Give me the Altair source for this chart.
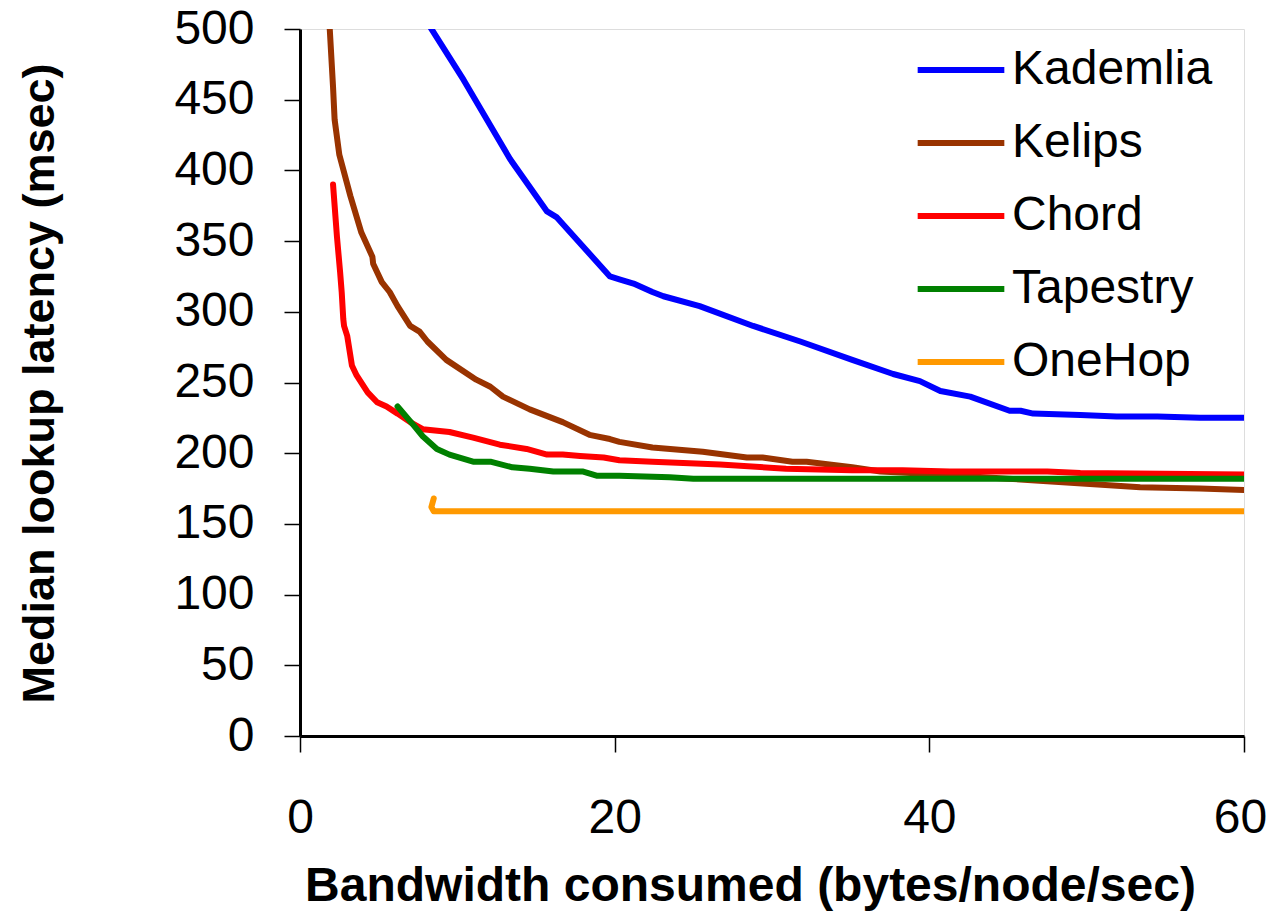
import altair as alt
import pandas as pd

names = ["Kademlia", "Kelips", "Chord", "Tapestry", "OneHop"]
colors = ["#0000FF", "#993300", "#FF0000", "#008000", "#FF9900"]

kademlia_x = [8.0, 8.3, 10.4, 13.35, 15.7, 16.3, 19.7, 20.3, 21.2, 22.4, 23.1, 25.4, 28.8, 31.8,
              35.1, 37.7, 39.4, 40.7, 42.6, 45.1, 45.8, 46.6, 49.6, 51.9, 54.5, 57.2, 60.0]
kademlia_y = [506, 501, 464, 408, 371, 367, 325, 323, 320, 314, 311, 304, 290, 279,
              266, 256, 251, 244, 240, 230, 230, 228, 227, 226, 226, 225, 225]

kelips_x = [1.85, 2.1, 2.2, 2.5, 3.2, 3.9, 4.6, 4.65, 5.2, 5.7, 6.2, 7.0, 7.6, 8.1, 9.3, 11.2,
            12.1, 12.9, 14.6, 16.7, 18.4, 19.7, 20.3, 22.4, 25.6, 28.4, 29.4, 31.3, 32.2, 35.1,
            36.9, 40.7, 45.0, 47.0, 53.4, 57.2, 60.0]
kelips_y = [508, 459, 436, 411, 382, 356, 339, 334, 321, 314, 304, 290, 286, 279, 266, 252,
            247, 240, 231, 222, 213, 210, 208, 204, 201, 197, 197, 194, 194, 190,
            187, 185, 182, 180.5, 176, 175, 174]

chord_x = [2.1, 2.35, 2.55, 2.65, 2.75, 2.8, 3.0, 3.3, 3.6, 4.3, 4.9, 5.5, 6.2, 7.0, 7.8, 9.5,
           11.0, 12.7, 14.4, 15.7, 16.7, 17.8, 19.3, 20.3, 22.4, 26.7, 30.9, 35.1, 38.3, 41.3,
           47.5, 49.6, 60.0]
chord_y = [390, 353, 328, 314, 295, 290, 283, 262, 255, 243, 236, 233, 228, 222, 217, 215,
           211, 206, 203, 199, 199, 198, 197, 195, 194, 192, 189, 188, 188, 187,
           187, 186, 185]

tapestry_x = [6.2, 7.2, 7.8, 8.7, 9.5, 11.0, 12.1, 13.5, 14.6, 16.1, 18.0, 18.9, 20.3, 23.5, 25.0, 60.0]
tapestry_y = [233, 220, 212, 203, 199, 194, 194, 190, 189, 187, 187, 184, 184, 183, 182, 182]

onehop_x = [8.5, 8.35, 8.5, 60.0]
onehop_y = [168, 162, 159, 159]

series = [
    ("Kademlia", kademlia_x, kademlia_y),
    ("Kelips", kelips_x, kelips_y),
    ("Chord", chord_x, chord_y),
    ("Tapestry", tapestry_x, tapestry_y),
    ("OneHop", onehop_x, onehop_y),
]

rows = []
for name, xs, ys in series:
    for i, (xv, yv) in enumerate(zip(xs, ys)):
        rows.append({"series": name, "x": xv, "y": yv, "i": i})
df = pd.DataFrame(rows)

FONT = "Liberation Sans, Arial, Helvetica, sans-serif"

chart = alt.Chart(df).mark_line(
    strokeWidth=6, strokeCap="round", strokeJoin="round", clip=True
).encode(
    x=alt.X("x:Q",
            scale=alt.Scale(domain=[0, 60], nice=False),
            axis=alt.Axis(values=[0, 20, 40, 60], format="d", grid=False,
                          title="Bandwidth consumed (bytes/node/sec)",
                          titleFontSize=48, titleFontWeight="bold", titleFont=FONT,
                          titleX=450, titleY=164, titleBaseline="alphabetic",
                          titleAlign="center", titleColor="black",
                          labelFontSize=48, labelFont=FONT, labelColor="black",
                          labelPadding=80, labelBaseline="alphabetic",
                          labelOffset={"condition": {"test": "datum.value == 60", "value": -4}, "value": 0},
                          tickSize=16, tickWidth=1.5, tickColor="black",
                          domainColor="black", domainWidth=3, labelFlush=False)),
    y=alt.Y("y:Q",
            scale=alt.Scale(domain=[0, 500], nice=False),
            axis=alt.Axis(values=list(range(0, 501, 50)), format="d", grid=False,
                          title="Median lookup latency (msec)",
                          titleFontSize=45, titleFontWeight="bold", titleFont=FONT,
                          titleX=-247, titleY=354, titleAngle=270,
                          titleBaseline="alphabetic", titleAlign="center", titleColor="black",
                          labelFontSize=48, labelFont=FONT, labelColor="black",
                          labelPadding=30,
                          tickSize=16, tickWidth=1.5, tickColor="black",
                          domainColor="black", domainWidth=3, labelFlush=False)),
    color=alt.Color("series:N",
                    scale=alt.Scale(domain=names, range=colors),
                    legend=alt.Legend(title=None, orient="none", legendX=637, legendY=17,
                                      symbolType="M-3.25,0H3.25", symbolSize=711,
                                      symbolStrokeWidth=6, labelFontSize=48,
                                      labelFont=FONT, labelColor="black",
                                      labelOffset=27, rowPadding=25, padding=0,
                                      labelLimit=400)),
    order=alt.Order("i:Q"),
).properties(
    width=944,
    height=707,
    padding={"left": 292, "top": 21, "right": 23, "bottom": 175},
    autosize="none",
).configure_view(
    stroke="#808080", strokeWidth=2
).configure(background="white")

chart.save("out.html", embed_options={"renderer": "svg", "actions": False})
